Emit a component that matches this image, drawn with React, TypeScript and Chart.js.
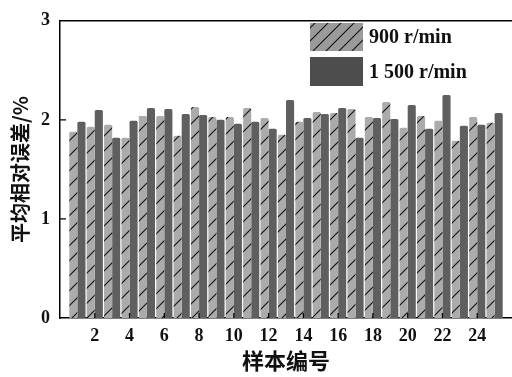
import React, { useEffect, useRef } from "react";
import { Chart, registerables } from "chart.js";

Chart.register(...registerables);

const samples = [1, 2, 3, 4, 5, 6, 7, 8, 9, 10, 11, 12, 13, 14, 15, 16, 17, 18, 19, 20, 21, 22, 23, 24, 25];
const series900 = [1.88, 1.93, 1.95, 1.82, 2.04, 2.04, 1.84, 2.13, 2.03, 2.03, 2.12, 2.02, 1.85, 1.98, 2.08, 2.07, 2.11, 2.03, 2.18, 1.92, 2.04, 1.99, 1.79, 2.03, 1.97];
const series1500 = [1.98, 2.1, 1.82, 1.99, 2.12, 2.11, 2.06, 2.05, 2.0, 1.96, 1.98, 1.91, 2.2, 2.02, 2.06, 2.12, 1.82, 2.02, 2.01, 2.15, 1.91, 2.25, 1.94, 1.95, 2.07];
const seriesLabels = ["900 r/min", "1 500 r/min"];
const xTickValues = [2, 4, 6, 8, 10, 12, 14, 16, 18, 20, 22, 24];
const yTickValues = [0, 1, 2, 3];

const SERIF = "'Liberation Serif', 'DejaVu Serif', serif";
const CJK = "'Noto Sans CJK SC', 'Noto Sans', sans-serif";

function makeHatch(base: string, size: number) {
  const c = document.createElement("canvas");
  c.width = size;
  c.height = size;
  const g = c.getContext("2d")!;
  g.fillStyle = base;
  g.fillRect(0, 0, size, size);
  g.strokeStyle = "#111";
  g.lineWidth = 1.1;
  g.beginPath();
  g.moveTo(0, size);
  g.lineTo(size, 0);
  g.moveTo(-2, 2);
  g.lineTo(2, -2);
  g.moveTo(size - 2, size + 2);
  g.lineTo(size + 2, size - 2);
  g.stroke();
  const p = g.createPattern(c, "repeat");
  return p as CanvasPattern;
}

export default function App() {
  const ref = useRef<HTMLCanvasElement>(null);

  useEffect(() => {
    if (!ref.current) return;
    const hatchBar = makeHatch("#ababab", 15);
    const hatchLegend = makeHatch("#9b9b9b", 13);
    const darkColor = "#5f5f5f";

    const decor = {
      id: "decor",
      afterDraw(chart: any) {
        const ctx = chart.ctx;
        const { left, right, top, bottom } = chart.chartArea;
        const xs = chart.scales.x;
        const ys = chart.scales.y;
        ctx.save();
        ctx.strokeStyle = "#000";
        ctx.lineWidth = 1.5;
        ctx.beginPath();
        ctx.moveTo(left, top);
        ctx.lineTo(right, top);
        ctx.stroke();
        ctx.lineWidth = 1.2;
        ctx.beginPath();
        xTickValues.forEach((v) => {
          const px = xs.getPixelForValue(v);
          ctx.moveTo(px, bottom);
          ctx.lineTo(px, bottom - 5);
        });
        yTickValues.slice(1, -1).forEach((v) => {
          const py = ys.getPixelForValue(v);
          ctx.moveTo(left, py);
          ctx.lineTo(left + 6, py);
        });
        ctx.stroke();

        // legend
        const boxes = [
          { y: 23, h: 28, fill: hatchLegend as any },
          { y: 57, h: 29, fill: "#4d4d4d" },
        ];
        ctx.font = `bold 20px ${SERIF}`;
        ctx.textBaseline = "middle";
        ctx.textAlign = "left";
        chart.data.datasets.forEach((ds: any, i: number) => {
          const b = boxes[i];
          ctx.fillStyle = b.fill;
          ctx.fillRect(310, b.y, 53, b.h);
          ctx.fillStyle = "#111";
          ctx.fillText(ds.label, 369, b.y + b.h / 2 + 1);
        });
        ctx.restore();
      },
    };

    const chart = new Chart(ref.current, {
      type: "bar",
      data: {
        datasets: [
          {
            label: seriesLabels[0],
            data: samples.map((s, i) => ({ x: s, y: series900[i] })),
            backgroundColor: hatchBar as any,
            borderRadius: 1.5,
            borderSkipped: "bottom",
            categoryPercentage: 0.93,
            barPercentage: 1,
          },
          {
            label: seriesLabels[1],
            data: samples.map((s, i) => ({ x: s, y: series1500[i] })),
            backgroundColor: darkColor,
            borderRadius: 1.5,
            borderSkipped: "bottom",
            categoryPercentage: 0.93,
            barPercentage: 1,
          },
        ],
      },
      options: {
        animation: false,
        responsive: true,
        maintainAspectRatio: false,
        layout: { padding: { top: 15, right: 0, left: 0, bottom: 0 } },
        plugins: { legend: { display: false }, tooltip: { enabled: false } },
        scales: {
          x: {
            type: "linear",
            min: 0,
            max: 26,
            offset: false,
            grid: { display: false, drawTicks: false, offset: false },
            border: { display: true, color: "#000", width: 1.5 },
            ticks: {
              stepSize: 2,
              autoSkip: false,
              maxRotation: 0,
              padding: 8,
              color: "#111",
              font: { family: SERIF, size: 18, weight: "bold" },
              callback: (v: any) => (xTickValues.includes(v) ? String(v) : ""),
            },
            title: {
              display: true,
              text: "样本编号",
              color: "#111",
              font: { family: CJK, size: 22, weight: "bold" },
              padding: { top: 0, bottom: 3 },
            },
            afterFit: (s: any) => {
              s.height = 59;
              s.paddingLeft = 0;
              s.paddingRight = 0;
            },
          },
          y: {
            min: 0,
            max: 3,
            grid: { display: false, drawTicks: false },
            border: { display: true, color: "#000", width: 1.5 },
            ticks: {
              stepSize: 1,
              padding: 10,
              color: "#111",
              font: { family: SERIF, size: 18, weight: "bold" },
            },
            title: {
              display: true,
              text: "平均相对误差/%",
              color: "#111",
              font: { family: CJK, size: 20, weight: "bold" },
              padding: { top: 8, bottom: 0 },
            },
            afterFit: (s: any) => {
              s.width = 60;
            },
          },
        },
      },
      plugins: [decor],
    } as any);
    return () => chart.destroy();
  }, []);

  return (
    <div style={{ position: "absolute", left: 0, top: 0, width: 512, height: 377, background: "#fff" }}>
      <canvas ref={ref} />
    </div>
  );
}
